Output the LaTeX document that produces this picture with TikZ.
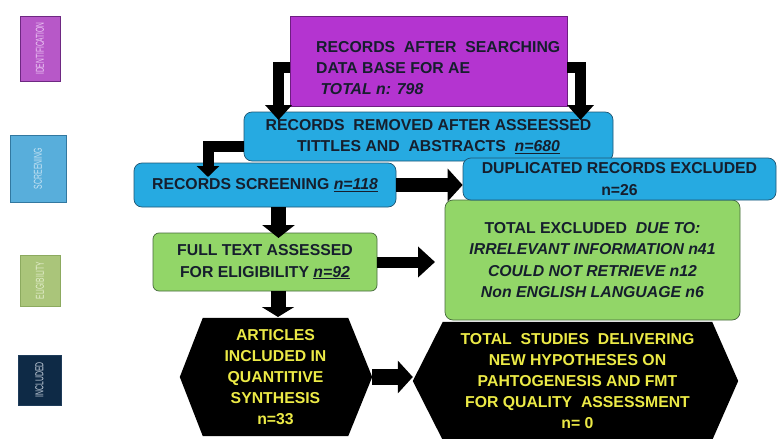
\documentclass[tikz,border=0pt]{standalone}
\usepackage{graphicx}
\usepackage{fontspec}
\setmainfont{Liberation Sans}
\usetikzlibrary{arrows.meta,calc,backgrounds}
\definecolor{cpurple}{RGB}{180,52,208}
\definecolor{cpurpleb}{RGB}{110,30,130}
\definecolor{cblue}{RGB}{38,170,225}
\definecolor{cblueb}{RGB}{30,85,115}
\definecolor{cgreen}{RGB}{146,214,104}
\definecolor{cgreenb}{RGB}{70,105,60}
\definecolor{ctxt}{RGB}{22,30,45}
\definecolor{cyellow}{RGB}{236,234,70}
\definecolor{lpurple}{RGB}{183,88,200}
\definecolor{lpurpleb}{RGB}{110,40,130}
\definecolor{lpurplet}{RGB}{236,200,244}
\definecolor{lblue}{RGB}{88,174,219}
\definecolor{lblueb}{RGB}{50,120,160}
\definecolor{lbluet}{RGB}{200,228,244}
\definecolor{lgreen}{RGB}{170,197,122}
\definecolor{lgreenb}{RGB}{140,170,95}
\definecolor{lgreent}{RGB}{228,238,205}
\definecolor{lnavy}{RGB}{14,42,70}
\definecolor{lnavyb}{RGB}{30,60,90}
\definecolor{lnavyt}{RGB}{200,210,222}
\begin{document}
\begin{tikzpicture}[x=1pt,y=-1pt,
  mainbox/.style={font=\fontsize{15.8}{21.3}\selectfont\bfseries, text=ctxt, align=center, inner sep=0pt, line width=0.7pt},
  bluebox/.style={mainbox, fill=cblue, draw=cblueb, rounded corners=8pt},
  greenbox/.style={mainbox, fill=cgreen, draw=cgreenb, rounded corners=8pt},
  hexnode/.style={font=\fontsize{15.8}{21}\selectfont\bfseries, text=cyellow, align=center, inner sep=0pt},
  sidebox/.style={rotate=90, line width=0.8pt, inner sep=0pt, font=\fontsize{11.5}{13}\selectfont},
  blk/.style={draw=black, line width=#1, line join=miter, -{Triangle[length=14pt,width=32pt]}},
]
\useasboundingbox (0,0) rectangle (779,439);

% side labels
\node[sidebox, fill=lpurple, draw=lpurpleb, text=lpurplet, minimum width=65pt, minimum height=40pt] (lid) at (40,48.5) {\scalebox{0.58}[1]{IDENTIFICATION}};
\node[sidebox, fill=lblue, draw=lblueb, text=lbluet, minimum width=67pt, minimum height=56pt] (lsc) at (38,168.5) {\scalebox{0.6}[1]{SCREENING}};
\node[sidebox, fill=lgreen, draw=lgreenb, text=lgreent, minimum width=51pt, minimum height=40pt] (lel) at (40,280.5) {\scalebox{0.58}[1]{ELIGIBILITY}};
\node[sidebox, fill=lnavy, draw=lnavyb, text=lnavyt, minimum width=50pt, minimum height=43pt] (lin) at (39.5,380) {\scalebox{0.6}[1]{INCLUDED}};

% identification
\node[draw=cpurpleb, fill=cpurple, line width=0.7pt, minimum width=277pt, minimum height=90pt, inner sep=0pt] (top) at (428.5,61) {};
\node[anchor=west, align=left, inner sep=0pt, font=\fontsize{15.8}{21}\selectfont\bfseries, text=ctxt] (toptext) at (316,68)
  {RECORDS\ \ AFTER\ \ SEARCHING\\DATA BASE FOR AE\\\ \textit{TOTAL n: 798}};

% screening
\node[bluebox, minimum width=369pt, minimum height=49pt] (rem) at (428.5,136.5)
  {RECORDS\ \ REMOVED AFTER ASSEESSED\\TITTLES AND\ \ ABSTRACTS\ \ \underline{\textit{n=680}}};

\coordinate (e1) at (278.5,120);
\coordinate (e2) at (580.5,120);
\draw[blk=11pt, -{Triangle[length=15pt,width=26pt]}] ([yshift=-6.5pt]top.west) -| (e1);
\draw[blk=11pt, -{Triangle[length=15pt,width=26pt]}] ([yshift=-6pt]top.east) -| (e2);

\node[bluebox, minimum width=262pt, minimum height=44pt] (scr) at (265,185)
  {RECORDS SCREENING \underline{\textit{n=118}}};

\coordinate (e3) at (208,177);
\draw[blk=11pt, -{Triangle[length=11pt,width=22pt]}] ([yshift=-9.5pt]rem.west) -| (e3);

% eligibility
\node[greenbox, rounded corners=6pt, minimum width=224pt, minimum height=58pt] (full) at (265,262)
  {FULL TEXT ASSESSED\\FOR ELIGIBILITY \underline{\textit{n=92}}};

\node[greenbox, minimum width=295pt, minimum height=120pt] (exc) at (592.5,260)
  {TOTAL EXCLUDED\ \ \textit{DUE TO:}\\\textit{IRRELEVANT INFORMATION n41}\\\textit{COULD NOT RETRIEVE n12}\\\textit{Non ENGLISH LANGUAGE n6}};

\node[bluebox, minimum width=313pt, minimum height=42pt] (dup) at (619.5,179)
  {DUPLICATED RECORDS EXCLUDED\\n=26};

\coordinate (e4) at (278.5,238);
\coordinate (e6) at (435,262);
\draw[blk=15pt, -{Triangle[length=13pt,width=32pt]}] (scr.south -| e4) -- (e4);
\draw[blk=14pt, -{Triangle[length=15pt,width=32pt]}] (scr.east) -- (scr.east -| dup.west);
\draw[blk=11pt, -{Triangle[length=17pt,width=30pt]}] (full.east) -- (e6);

% included
\node[hexnode, minimum width=145pt, minimum height=118pt] (art) at (275.5,377)
  {ARTICLES\\INCLUDED IN\\QUANTITIVE\\SYNTHESIS\\n=33};
\node[hexnode, minimum width=269pt, minimum height=118pt] (st) at (577.5,381)
  {TOTAL\ \ STUDIES\ \ DELIVERING\\NEW HYPOTHESES ON\\PAHTOGENESIS AND FMT\\FOR QUALITY\ \ ASSESSMENT\\n= 0};
\coordinate (artR) at ($(art.east)+(24,0)$);
\coordinate (artL) at ($(art.west)+(-23,0)$);
\coordinate (stL) at ($(st.west)+(-30,0)$);
\coordinate (stR) at ($(st.east)+(26,0)$);
\begin{pgfonlayer}{background}
\fill[white] (0,0) rectangle (779,439);
\fill[black] (art.north west) -- (art.north east) -- (artR) -- (art.south east) -- (art.south west) -- (artL) -- cycle;
\fill[black] (st.north west) -- (st.north east) -- (stR) -- (st.south east) -- (st.south west) -- (stL) -- cycle;
\end{pgfonlayer}

\coordinate (e7) at (278,317);
\draw[blk=15pt, -{Triangle[length=10pt,width=32pt]}] (full.south -| e7) -- (e7);
\draw[blk=16pt, -{Triangle[length=15pt,width=32pt]}] (artR) -- (artR -| stL);
\end{tikzpicture}
\end{document}
